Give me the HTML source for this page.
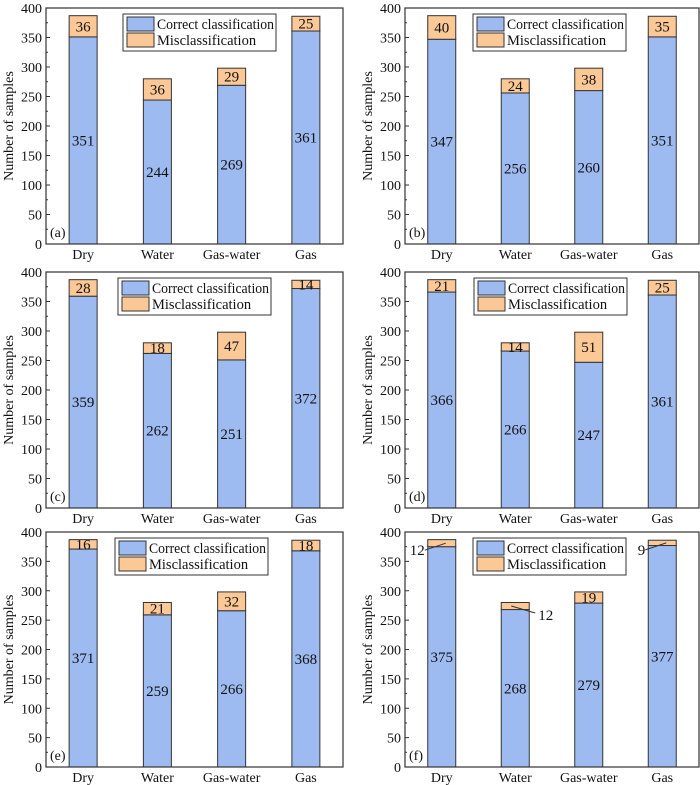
<!DOCTYPE html>
<html><head><meta charset="utf-8"><style>
html,body{margin:0;padding:0;background:#fff;width:700px;height:785px;overflow:hidden}
svg text{font-family:"Liberation Serif",serif;fill:#111}
</style></head><body>
<svg id="fig" width="700" height="785" xmlns="http://www.w3.org/2000/svg"></svg>
<script>
const categories = ["Dry","Water","Gas-water","Gas"];
const correctA = [351,244,269,361], misA = [36,36,29,25];
const correctB = [347,256,260,351], misB = [40,24,38,35];
const correctC = [359,262,251,372], misC = [28,18,47,14];
const correctD = [366,266,247,361], misD = [21,14,51,25];
const correctE = [371,259,266,368], misE = [16,21,32,18];
const correctF = [375,268,279,377], misF = [12,12,19,9];
const yTicks = [0,50,100,150,200,250,300,350,400];
const panelLabels = ["(a)","(b)","(c)","(d)","(e)","(f)"];

const NS="http://www.w3.org/2000/svg";
const svg=document.getElementById('fig');
function mk(tag,attrs,parent){const e=document.createElementNS(NS,tag);for(const k in attrs)e.setAttribute(k,attrs[k]);(parent||svg).appendChild(e);return e;}
const FS=14;
const panels=[
 {c:correctA,m:misA,x0:46,x1:343,y0:8,y1:244,lx:123},
 {c:correctB,m:misB,x0:405,x1:699,y0:8,y1:244,lx:473},
 {c:correctC,m:misC,x0:46,x1:343,y0:272,y1:508,lx:118},
 {c:correctD,m:misD,x0:405,x1:699,y0:272,y1:508,lx:474},
 {c:correctE,m:misE,x0:46,x1:343,y0:532,y1:767,lx:115},
 {c:correctF,m:misF,x0:405,x1:699,y0:532,y1:767,lx:473}
];
panels.forEach((p,pi)=>{
  const g=mk('g',{});
  
  
  const W=p.x1-p.x0;
  const ys=v=>p.y1-(v/400)*(p.y1-p.y0);
  const xs=i=>p.x0+W*(0.125+0.25*i);
  const bw=28;
  categories.forEach((cat,i)=>{
    const cx=xs(i);
    const b=mk('rect',{x:cx-bw/2,y:ys(p.c[i]),width:bw,height:ys(0)-ys(p.c[i]),fill:'#9dbbf1',stroke:'#333','stroke-width':1},g);
    
    
    const tot=p.c[i]+p.m[i];
    const m=mk('rect',{x:cx-bw/2,y:ys(tot),width:bw,height:ys(p.c[i])-ys(tot),fill:'#fbc896',stroke:'#333','stroke-width':1},g);
    
    
    const t=mk('text',{x:cx,y:ys(p.c[i]/2)+5,'text-anchor':'middle','font-size':FS+1},g);
    t.textContent=p.c[i];
    if(pi===5 && p.m[i]<15){
      const my=(ys(tot)+ys(p.c[i]))/2;
      if(i===1){mk('line',{x1:cx-4,y1:my,x2:cx+20,y2:my+7,stroke:'#333'},g);mk('text',{x:cx+23,y:my+14,'font-size':FS+1},g).textContent=p.m[i];}
      else {mk('line',{x1:cx+4,y1:my,x2:cx-17,y2:my+7,stroke:'#333'},g);mk('text',{x:cx-17,y:my+12,'font-size':FS+1,'text-anchor':'end'},g).textContent=p.m[i];}
    } else {
      const t2=mk('text',{x:cx,y:(ys(tot)+ys(p.c[i]))/2+5,'text-anchor':'middle','font-size':FS+1},g);
      t2.textContent=p.m[i];
    }
    const xl=mk('text',{x:cx,y:p.y1+15,'text-anchor':'middle','font-size':FS},g);
    xl.textContent=cat;
    
    
  });
  mk('rect',{x:p.x0,y:p.y0,width:W,height:p.y1-p.y0,fill:'none',stroke:'#333','stroke-width':1.2},g);
  yTicks.forEach(v=>{
    const y=ys(v);
    mk('line',{x1:p.x0,y1:y,x2:p.x0+4,y2:y,stroke:'#333'},g);
    if(v<400) mk('line',{x1:p.x0,y1:ys(v+25),x2:p.x0+2,y2:ys(v+25),stroke:'#333'},g);
    const t=mk('text',{x:p.x0-4,y:y+5,'text-anchor':'end','font-size':FS},g);
    t.textContent=v;
  });
  const yl=mk('text',{x:0,y:0,'text-anchor':'middle','font-size':FS,transform:`translate(${p.x0-33},${(p.y0+p.y1)/2}) rotate(-90)`},g);
  yl.textContent='Number of samples';
  
  
  const pl=mk('text',{x:p.x0+4,y:p.y1-7,'font-size':FS},g);
  pl.textContent=panelLabels[pi];
  
  
  const lg=mk('g',{},g);
  
  
  const ly=p.y0+6;
  mk('rect',{x:p.lx,y:ly,width:153,height:37,fill:'#fff',stroke:'#333'},lg);
  mk('rect',{x:p.lx+4,y:ly+3,width:27,height:14,fill:'#9dbbf1',stroke:'#333'},lg);
  mk('rect',{x:p.lx+4,y:ly+19,width:27,height:14,fill:'#fbc896',stroke:'#333'},lg);
  mk('text',{x:p.lx+34,y:ly+15,'font-size':FS+0.5,textLength:117,lengthAdjust:'spacingAndGlyphs'},lg).textContent='Correct classification';
  mk('text',{x:p.lx+34,y:ly+31,'font-size':FS+0.5},lg).textContent='Misclassification';
});
</script>
</body></html>
